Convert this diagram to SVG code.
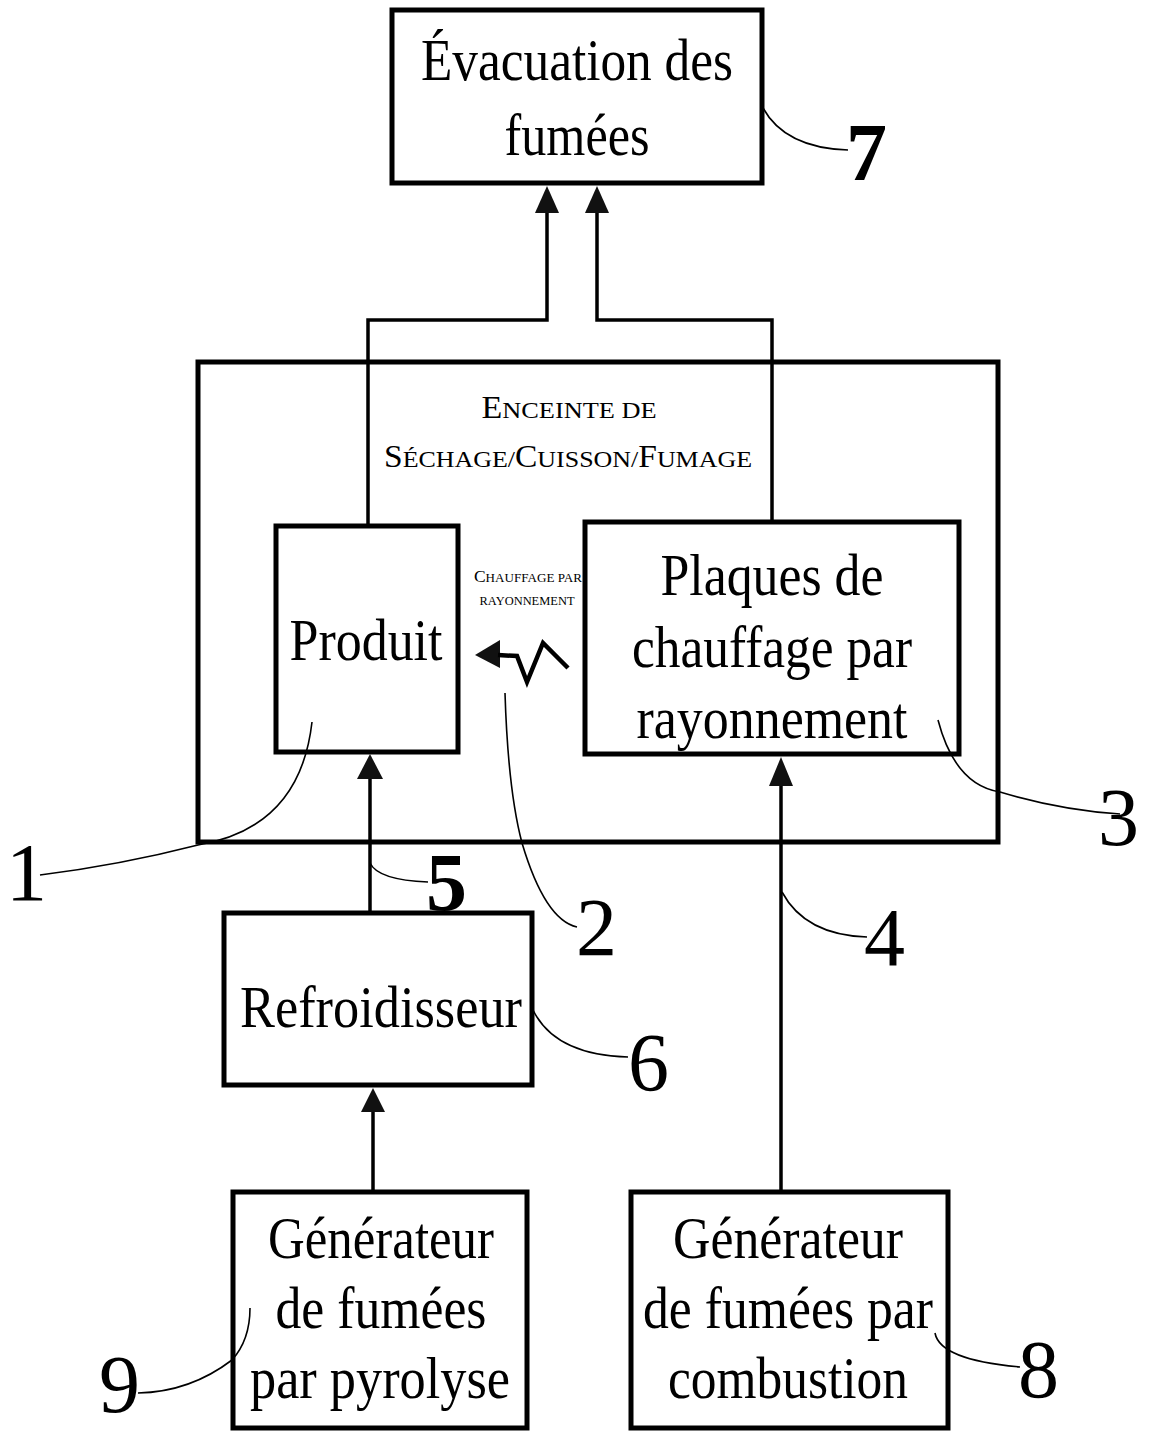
<svg xmlns="http://www.w3.org/2000/svg" width="1152" height="1432" viewBox="0 0 1152 1432">
<style>
.box{fill:none;stroke:#000;stroke-width:5}
.lbl{font-family:"Liberation Serif","Times New Roman",serif;font-size:60px;fill:#000;text-anchor:middle}
.sc{font-family:"Liberation Serif","Times New Roman",serif;fill:#000;text-anchor:middle}
.num{font-family:"Liberation Serif","Times New Roman",serif;font-size:82px;fill:#000}
.conn{fill:none;stroke:#000;stroke-width:3.5}
.lead{fill:none;stroke:#000;stroke-width:1.6}
.head{fill:#111}
</style>
<rect width="1152" height="1432" fill="#fff"/>
<g id="n7">
<rect class="box" x="392" y="10" width="370" height="173"/>
<text class="lbl" x="577" y="80" textLength="312" lengthAdjust="spacingAndGlyphs">Évacuation des</text>
<text class="lbl" x="577" y="155" textLength="145" lengthAdjust="spacingAndGlyphs">fumées</text>
</g>
<g id="enceinte">
<rect class="box" x="198" y="362" width="800" height="480"/>
<text class="sc" x="569" y="418" textLength="175" lengthAdjust="spacingAndGlyphs"><tspan font-size="31">E</tspan><tspan font-size="24">NCEINTE DE</tspan></text>
<text class="sc" x="568" y="467" textLength="368" lengthAdjust="spacingAndGlyphs"><tspan font-size="31">S</tspan><tspan font-size="24">ÉCHAGE/</tspan><tspan font-size="31">C</tspan><tspan font-size="24">UISSON/</tspan><tspan font-size="31">F</tspan><tspan font-size="24">UMAGE</tspan></text>
</g>
<g id="n1">
<rect class="box" x="276" y="526" width="182" height="226"/>
<text class="lbl" x="366" y="660" textLength="153" lengthAdjust="spacingAndGlyphs">Produit</text>
</g>
<g id="n2">
<text class="sc" x="528" y="582" textLength="108" lengthAdjust="spacingAndGlyphs"><tspan font-size="16">C</tspan><tspan font-size="12">HAUFFAGE PAR</tspan></text>
<text class="sc" x="527" y="605" textLength="95" lengthAdjust="spacingAndGlyphs"><tspan font-size="12">RAYONNEMENT</tspan></text>
<polygon class="head" points="475,655 500,640 500,668"/>
<polyline points="498,655 517,656 527,682 543,643 568,668" fill="none" stroke="#000" stroke-width="4.5"/>
</g>
<g id="n3">
<rect class="box" x="585" y="522" width="374" height="232"/>
<text class="lbl" x="772" y="595" textLength="223" lengthAdjust="spacingAndGlyphs">Plaques de</text>
<text class="lbl" x="772" y="667" textLength="280" lengthAdjust="spacingAndGlyphs">chauffage par</text>
<text class="lbl" x="772" y="738" textLength="271" lengthAdjust="spacingAndGlyphs">rayonnement</text>
</g>
<g id="n6">
<rect class="box" x="224" y="913" width="308" height="172"/>
<text class="lbl" x="381" y="1027" textLength="282" lengthAdjust="spacingAndGlyphs">Refroidisseur</text>
</g>
<g id="n9">
<rect class="box" x="233" y="1192" width="294" height="236"/>
<text class="lbl" x="381" y="1258" textLength="226" lengthAdjust="spacingAndGlyphs">Générateur</text>
<text class="lbl" x="381" y="1328" textLength="211" lengthAdjust="spacingAndGlyphs">de fumées</text>
<text class="lbl" x="380" y="1398" textLength="260" lengthAdjust="spacingAndGlyphs">par pyrolyse</text>
</g>
<g id="n8">
<rect class="box" x="631" y="1192" width="317" height="236"/>
<text class="lbl" x="788" y="1258" textLength="230" lengthAdjust="spacingAndGlyphs">Générateur</text>
<text class="lbl" x="788" y="1328" textLength="290" lengthAdjust="spacingAndGlyphs">de fumées par</text>
<text class="lbl" x="788" y="1398" textLength="240" lengthAdjust="spacingAndGlyphs">combustion</text>
</g>
<g id="connectors">
<polyline class="conn" points="368,526 368,320 547,320 547,210"/>
<polygon class="head" points="547,186 535,213 559,213"/>
<polyline class="conn" points="772,522 772,320 597,320 597,210"/>
<polygon class="head" points="597,186 585,213 609,213"/>
<line class="conn" x1="370" y1="913" x2="370" y2="775"/>
<polygon class="head" points="370,754 357,779 383,779"/>
<line class="conn" x1="373" y1="1192" x2="373" y2="1108"/>
<polygon class="head" points="373,1088 361,1112 385,1112"/>
<line class="conn" x1="781" y1="1192" x2="781" y2="780"/>
<polygon class="head" points="781,757 769,786 793,786"/>
</g>
<g id="leaders">
<path class="lead" d="M763,108 Q785,148 848,150"/>
<path class="lead" d="M938,720 Q955,785 1000,792 Q1060,810 1120,814"/>
<path class="lead" d="M312,722 Q300,828 198,845 Q120,865 40,875"/>
<path class="lead" d="M370,863 Q378,880 428,882"/>
<path class="lead" d="M505,693 Q508,790 522,843 Q545,920 577,927"/>
<path class="lead" d="M782,892 Q805,935 867,937"/>
<path class="lead" d="M533,1010 Q555,1055 628,1057"/>
<path class="lead" d="M250,1308 Q250,1340 232,1360 Q190,1392 138,1393"/>
<path class="lead" d="M935,1333 Q940,1360 1020,1367"/>
</g>
<g id="numbers">
<text class="num" x="846" y="180" font-weight="bold">7</text>
<text class="num" x="1098" y="845">3</text>
<text class="num" x="6" y="900">1</text>
<text class="num" x="426" y="910" font-weight="bold">5</text>
<text class="num" x="576" y="955">2</text>
<text class="num" x="864" y="965">4</text>
<text class="num" x="628" y="1090">6</text>
<text class="num" x="99" y="1412" font-size="80">9</text>
<text class="num" x="1018" y="1397">8</text>
</g>
</svg>
